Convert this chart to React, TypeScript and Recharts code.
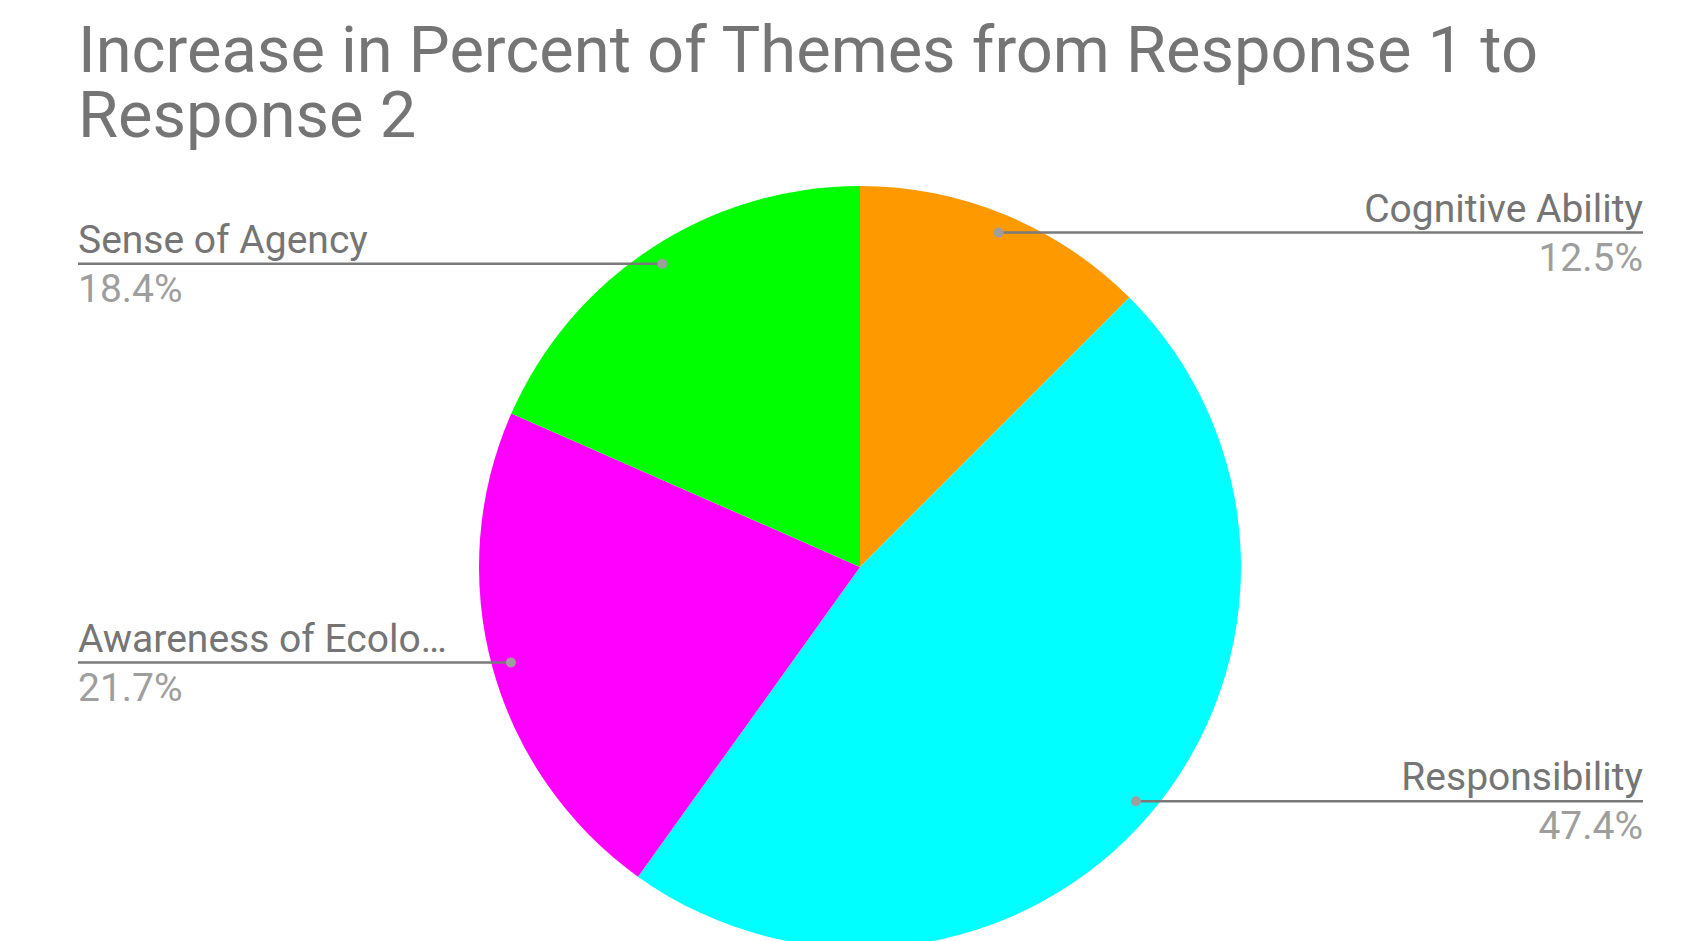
import { PieChart, Pie, Cell } from 'recharts';

const TITLE_LINES = ['Increase in Percent of Themes from Response 1 to', 'Response 2'];
const THEMES = ['Cognitive Ability', 'Responsibility', 'Awareness of Ecolo…', 'Sense of Agency'];
const PERCENTS = [12.5, 47.4, 21.7, 18.4];
const COLORS = ['#ff9900', '#00ffff', '#ff00ff', '#00ff00'];

const data = THEMES.map((name, i) => ({ name, value: PERCENTS[i] }));

const RADIAN = Math.PI / 180;
const LEFT_X = 78;
const RIGHT_X = 1643;

function renderLabel(props: any) {
  const { cx, cy, midAngle, outerRadius, name, value } = props;
  const r = outerRadius * 0.95;
  const x = cx + r * Math.cos(-midAngle * RADIAN);
  const y = cy + r * Math.sin(-midAngle * RADIAN);
  const right = x > cx;
  const endX = right ? RIGHT_X : LEFT_X;
  const anchor = right ? 'end' : 'start';
  return (
    <g>
      <line x1={x} y1={y} x2={endX} y2={y} stroke="#7a7a7a" strokeWidth={2.5} />
      <circle cx={x} cy={y} r={5} fill="#9e9e9e" />
      <text x={endX} y={y - 11} textAnchor={anchor} fill="#757575" fontSize={39} fontFamily="Roboto">
        {name}
      </text>
      <text x={endX} y={y + 38} textAnchor={anchor} fill="#9e9e9e" fontSize={39} fontFamily="Roboto">
        {value.toFixed(1)}%
      </text>
    </g>
  );
}

export default function App() {
  return (
    <div style={{ position: 'absolute', left: 0, top: 0, width: 1698, height: 941, background: '#fff', overflow: 'hidden' }}>
      <div
        style={{
          position: 'absolute',
          left: 78,
          top: 18,
          fontFamily: 'Roboto',
          fontSize: 65,
          lineHeight: '65px',
          color: '#757575',
          whiteSpace: 'nowrap',
        }}
      >
        {TITLE_LINES.map((line) => (
          <div key={line}>{line}</div>
        ))}
      </div>
      <div style={{ position: 'absolute', left: 0, top: 0 }}>
        <PieChart width={1698} height={941}>
          <Pie
            data={data}
            dataKey="value"
            nameKey="name"
            cx={855}
            cy={562}
            outerRadius={381}
            startAngle={90}
            endAngle={-270}
            stroke="none"
            label={renderLabel}
            labelLine={false}
            isAnimationActive={false}
          >
            {data.map((entry, index) => (
              <Cell key={`cell-${index}`} fill={COLORS[index % COLORS.length]} />
            ))}
          </Pie>
        </PieChart>
      </div>
    </div>
  );
}
